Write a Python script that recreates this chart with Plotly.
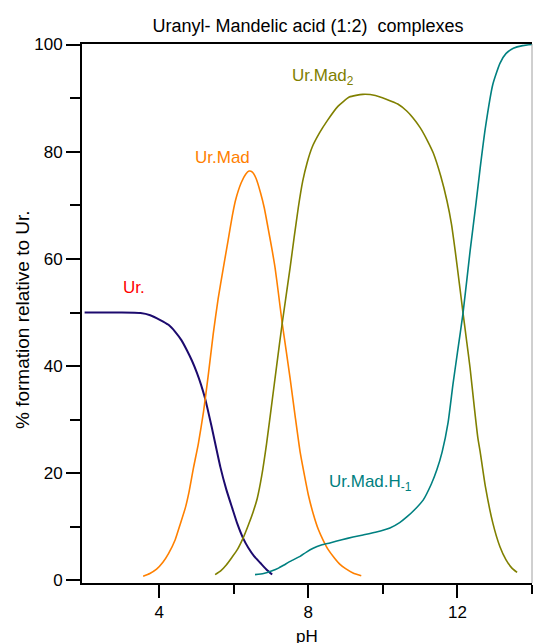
import plotly.graph_objects as go

# ---- data (pH vs % formation relative to Ur.) ----
ur_ph = [2.0, 2.5, 3.0, 3.5, 3.76, 4.03, 4.25, 4.43, 4.6, 4.74, 4.88, 5.01, 5.12, 5.23,
         5.4, 5.64, 5.8, 5.96, 6.1, 6.25, 6.39, 6.55, 6.71, 6.87, 7.03]
ur_val = [50, 50, 50, 49.9, 49.5, 48.6, 47.7, 46.4, 44.8, 43.0, 41.0, 38.8, 36.6, 34.0,
          28.9, 21.2, 17.0, 13.5, 10.5, 7.9, 6.1, 4.5, 3.3, 2.1, 1.1]

urmad_ph = [3.57, 3.75, 3.93, 4.1, 4.25, 4.43, 4.56, 4.70, 4.80, 4.92, 5.05, 5.19, 5.32,
            5.45, 5.58, 5.72, 5.85, 5.96, 6.05, 6.2, 6.32, 6.41, 6.5, 6.6, 6.72, 6.82,
            6.92, 7.02, 7.11, 7.2, 7.30, 7.41, 7.51, 7.65, 7.78, 7.9, 8.0, 8.13, 8.27,
            8.40, 8.53, 8.7, 8.85, 9.0, 9.2, 9.42]
urmad_val = [0.8, 1.3, 2.1, 3.4, 5.0, 7.6, 10.4, 13.5, 16.5, 21.0, 25.5, 31.5, 38.5,
             46.0, 52.5, 58.3, 63.5, 68.0, 71.0, 74.2, 75.8, 76.4, 76.2, 75.0, 72.3, 69.5,
             65.8, 62.0, 58.3, 53.5, 48.0, 42.7, 37.8, 30.5, 24.0, 19.5, 16.0, 12.5, 9.5,
             7.5, 5.8, 4.2, 3.0, 2.2, 1.4, 0.9]

urmad2_ph = [5.50, 5.65, 5.8, 5.95, 6.1, 6.25, 6.4, 6.52, 6.63, 6.75, 6.88, 7.03, 7.15,
             7.30, 7.51, 7.62, 7.73, 7.85, 7.97, 8.10, 8.3, 8.51, 8.8, 9.1, 9.46, 9.8,
             10.09, 10.4, 10.64, 10.81, 11.0, 11.2, 11.35, 11.55, 11.72, 11.84, 11.94,
             12.05, 12.15, 12.25, 12.34, 12.45, 12.55, 12.61, 12.75, 12.95, 13.14, 13.3,
             13.45, 13.6]
urmad2_val = [1.1, 1.8, 2.9, 4.3, 5.8, 7.9, 10.5, 12.8, 15.3, 19.5, 25.5, 33.5, 40.0,
              48.0, 58.3, 64.0, 69.5, 74.5, 78.0, 80.8, 83.5, 85.8, 88.5, 90.2, 90.7, 90.5,
              89.8, 88.9, 87.6, 86.3, 84.5, 82.0, 79.8, 75.5, 70.8, 66.5, 61.5,
              55.5, 49.9, 44.5, 39.6, 32.5, 26.5, 24.0, 17.5, 10.7, 6.3, 3.9,
              2.4, 1.5]

urmadh_ph = [6.57, 6.8, 7.03, 7.2, 7.35, 7.55, 7.78, 7.95, 8.13, 8.35, 8.58, 8.9, 9.2,
             9.47, 9.8, 10.19, 10.45, 10.65, 10.85, 11.08, 11.3, 11.45, 11.59, 11.75,
             11.88, 12.0, 12.15, 12.34, 12.5, 12.61, 12.75, 12.95, 13.14, 13.3, 13.5,
             13.75, 14.0]
urmadh_val = [1.1, 1.3, 1.8, 2.3, 2.9, 3.7, 4.5, 5.3, 6.0, 6.6, 7.0, 7.6, 8.1,
              8.5, 9.0, 9.8, 10.8, 11.9, 13.2, 15.0, 18.0, 20.7, 24.0, 29.5,
              36.6, 42.5, 49.9, 61.5, 70.5, 77.0, 84.5, 92.6, 96.5, 98.3, 99.3,
              99.8, 100]

x_ticks = [4, 8, 12]
x_minor = [6, 10, 14]
y_ticks = [0, 20, 40, 60, 80, 100]
y_minor = [10, 30, 50, 70, 90]

labels = ["Ur.", "Ur.Mad", "Ur.Mad<sub>2</sub>", "Ur.Mad.H<sub>-1</sub>"]
label_ph = [3.33, 5.70, 8.40, 9.68]
label_val = [54.6, 79.0, 94.0, 18.1]

FONT = "Arial, Liberation Sans, sans-serif"
c_ur, c_mad, c_mad2, c_madh = "#1c0a6e", "#ff8000", "#808000", "#008080"
label_colors = ["#ff0000", c_mad, c_mad2, c_madh]

fig = go.Figure()
for xs, ys, col, w in [(ur_ph, ur_val, c_ur, 2),
                       (urmad_ph, urmad_val, c_mad, 1.6),
                       (urmad2_ph, urmad2_val, c_mad2, 1.6),
                       (urmadh_ph, urmadh_val, c_madh, 1.6)]:
    fig.add_trace(go.Scatter(x=xs, y=ys, mode="lines",
                             line=dict(color=col, width=w, shape="spline", smoothing=0.5),
                             showlegend=False, hoverinfo="skip"))

for t, px, pv, col in zip(labels, label_ph, label_val, label_colors):
    fig.add_annotation(x=px, y=pv, xref="x", yref="y", text=t, showarrow=False,
                       font=dict(family=FONT, size=17, color=col),
                       xanchor="center", yanchor="middle")

# axis titles as annotations for precise placement
fig.add_annotation(x=-0.131, y=0.488, xref="paper", yref="paper",
                   text="% formation relative to Ur.", textangle=-90, showarrow=False,
                   font=dict(family=FONT, size=19, color="black"),
                   xanchor="center", yanchor="middle")
fig.add_annotation(x=0.5, y=-0.1, xref="paper", yref="paper",
                   text="pH", showarrow=False,
                   font=dict(family=FONT, size=17, color="black"),
                   xanchor="center", yanchor="middle")

# right frame line (gray)
fig.add_shape(type="line", xref="paper", yref="paper", x0=1, x1=1, y0=0, y1=1,
              line=dict(color="#a0a0a0", width=1))

fig.update_layout(
    width=533, height=643,
    margin=dict(l=82, r=1, t=44, b=60, autoexpand=False),
    paper_bgcolor="white", plot_bgcolor="white",
    font=dict(family=FONT, size=17, color="black"),
    title=dict(text="Uranyl- Mandelic acid (1:2)  complexes", x=0.578, xanchor="center",
               y=0.96, yanchor="middle", font=dict(family=FONT, size=18, color="black")),
    xaxis=dict(range=[1.93, 14], tickvals=x_ticks, ticktext=[str(v) for v in x_ticks],
               ticks="outside", ticklen=13, tickwidth=1.5, tickcolor="black",
               showline=True, linecolor="black", linewidth=2, mirror=True,
               showgrid=False, zeroline=False, automargin=False,
               minor=dict(tickvals=x_minor, ticks="outside", ticklen=9, tickwidth=1.5,
                          tickcolor="black"),
               tickfont=dict(size=17)),
    yaxis=dict(range=[-0.47, 100.1], tickvals=y_ticks, ticktext=[str(v) for v in y_ticks],
               ticks="outside", ticklen=14, tickwidth=1.5, tickcolor="black",
               showline=True, linecolor="black", linewidth=2,
               showgrid=False, zeroline=False, automargin=False,
               minor=dict(tickvals=y_minor, ticks="outside", ticklen=10, tickwidth=1.5,
                          tickcolor="black"),
               tickfont=dict(size=17)),
)

fig.write_html("out.html", config={"displayModeBar": False},
               post_script="document.body.style.margin='0';document.body.style.overflow='hidden';")
